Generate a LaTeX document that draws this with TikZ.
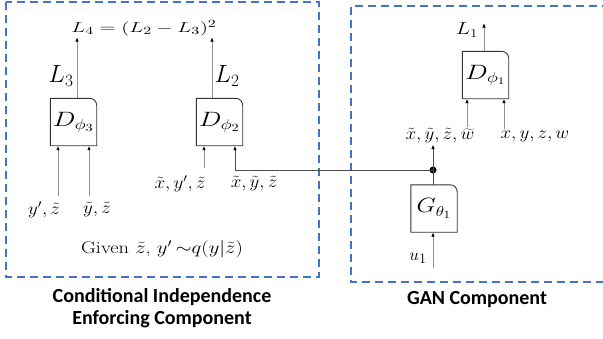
\documentclass[tikz,border=0pt]{standalone}
\usepackage{fontspec}
\usepackage{graphicx}
\newfontfamily\capfont{Carlito}
\usepackage{tikz}
\usetikzlibrary{positioning,arrows.meta,calc}
\definecolor{compblue}{RGB}{68,114,196}
\newcommand{\hs}[2]{\scalebox{#1}[1]{#2}}

\begin{document}
\begin{tikzpicture}[x=1pt, y=-1pt,
    net/.style={minimum width=46pt, minimum height=47pt, inner sep=0pt, font=\fontsize{22}{24}\selectfont},
    lbl/.style={inner sep=1pt, font=\fontsize{23}{25}\selectfont},
    inp/.style={inner sep=1pt, font=\fontsize{18}{20}\selectfont},
    feed/.style={draw=gray!85, line width=0.9pt, -{Latex[length=4.5pt, width=3.5pt, color=black]}},
    wire/.style={draw=black!70, line width=0.9pt},
    comp/.style={draw=compblue, line width=1.4pt, dash pattern=on 8pt off 5pt},
    compcap/.style={font=\capfont\bfseries\fontsize{20}{22}\selectfont, align=center}]
    \useasboundingbox (0,0) rectangle (603,338);

    % component frames
    \draw[comp] (6,2) rectangle (319,277);
    \draw[comp] (610,6) -- (351,6) -- (351,282) -- (610,282);

    % conditional independence part
    \node[net] (d3) at (73.5,122) {\hs{1.3}{$D_{\phi_3}$}};
    \node[net] (d2) at (219.5,122) {\hs{1.3}{$D_{\phi_2}$}};
    \node[lbl, font=\fontsize{15}{17}\selectfont] (l4) at (144,28) {\hs{1.45}{$L_4 = (L_2 - L_3)^2$}};
    \node[lbl] (l3) at (61,76) {$L_3$};
    \node[lbl] (l2) at (227,76) {$L_2$};

    \node[inp] (yz3) at (44,210) {\hs{1.1}{$y', \tilde{z}$}};
    \node[inp] (tyz3) at (97,210) {\hs{1.1}{$\tilde{y}, \tilde{z}$}};
    \node[inp] (xyz2) at (180,184) {\hs{1.1}{$\tilde{x}, y', \tilde{z}$}};
    \node[inp] (txyz2) at (254,184) {\hs{1.1}{$\tilde{x}, \tilde{y}, \tilde{z}$}};
    \node[font=\fontsize{17}{19}\selectfont] (given) at (162,249) {\hs{1.2}{Given $\tilde{z}$, $y'\,{\sim}q(y|\tilde{z})$}};
    \node[compcap] (cicap) at (162,308) {Conditional Independence\\Enforcing Component};

    \coordinate (in3a) at (58,196);
    \coordinate (in3b) at (89,196);
    \coordinate (in2a) at (204,168);

    \draw[feed] (d3.north -| 77,0) -- (l4.south -| 77,0);
    \draw[feed] (d2.north -| 212,0) -- (l4.south -| 212,0);
    \draw[feed] (in3a) -- (in3a |- d3.south);
    \draw[feed] (in3b) -- (in3b |- d3.south);
    \draw[feed] (in2a) -- (in2a |- d2.south);

    % GAN part
    \node[net, font=\fontsize{20}{22}\selectfont] (d1) at (485.5,75) {\hs{1.3}{$D_{\phi_1}$}};
    \node[net] (g1) at (434,208.5) {\hs{1.2}{$G_{\theta_1}$}};
    \node[lbl, font=\fontsize{18}{20}\selectfont] (l1) at (467,30) {\hs{1.25}{$L_1$}};
    \node[inp] (fake) at (440,136) {\hs{1.1}{$\tilde{x}, \tilde{y}, \tilde{z}, \widetilde{w}$}};
    \node[inp] (real) at (535,136) {\hs{1.1}{$x, y, z, w$}};
    \node[lbl, font=\fontsize{19}{21}\selectfont] (u1) at (418,258) {$u_1$};
    \node[compcap] (gancap) at (477,300) {GAN Component};

    \coordinate (noise) at (433,268);
    \fill (433,170) circle (3.5pt) coordinate (split);

    \draw[feed] (d1.north -| 484,0) -- (484,23);
    \draw[feed] (fake.north -| 467,0) -- (d1.south -| 467,0);
    \draw[feed] (real.north -| 504,0) -- (d1.south -| 504,0);
    \draw[feed] (noise) -- (noise |- g1.south);
    \draw[wire] (g1.north -| split) -- (split);
    \draw[feed, draw=black!70] (split) -- (split |- fake.south);
    \draw[feed, draw=black!70] (split) -- (235,170) -- (d2.south -| 235,0);

    % block outlines, top right corner rounded
    \foreach \n in {d3,d2,d1,g1}
        \draw[black!80, line width=0.9pt] (\n.south west) -- (\n.north west) -- ([xshift=-7pt]\n.north east)
            arc[start angle=90, end angle=0, radius=7pt] -- (\n.south east) -- cycle;
\end{tikzpicture}
\end{document}
